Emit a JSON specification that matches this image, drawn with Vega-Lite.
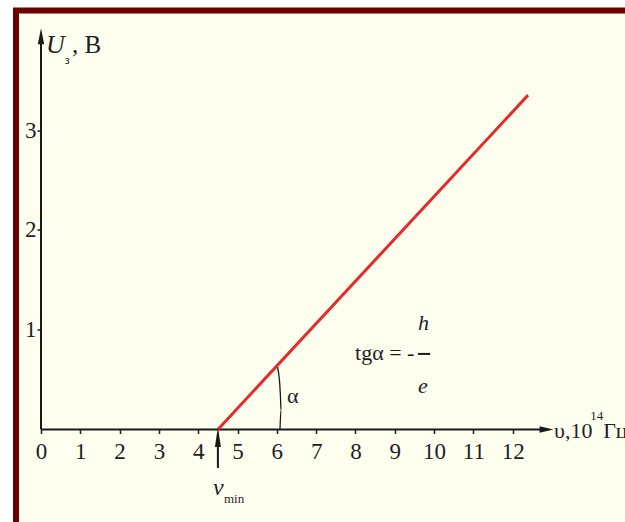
{
  "$schema": "https://vega.github.io/schema/vega-lite/v6.json",
  "width": 609,
  "height": 511.5,
  "autosize": "none",
  "padding": {"left": 16, "top": 10.5, "right": 0, "bottom": 0},
  "background": "#ffffff",
  "config": {
    "view": {"fill": "#FFFFF0", "stroke": "#6B0000", "strokeWidth": 6, "strokeDash": [609, 1120.5, 511.5, 0], "strokeCap": "square"},
    "text": {"font": "Liberation Serif", "color": "#1e1e1e", "align": "left", "baseline": "alphabetic"}
  },
  "datasets": {
    "line": [{"x": 4.5, "y": 0}, {"x": 12.39, "y": 3.35}],
    "rules": [
      {"part": "x-axis", "x": 0, "y": 0, "x2": 12.9, "y2": 0},
      {"part": "y-axis", "x": 0, "y": 0, "x2": 0, "y2": 3.9},
      {"part": "nu-min", "x": 4.5, "y": -0.386, "x2": 4.5, "y2": -0.1},
      {"part": "fraction", "x": 9.59, "y": 0.757, "x2": 9.9, "y2": 0.757}
    ],
    "arc": [
      {"x": 6.08, "y": 0},
      {"x": 6.105, "y": 0.195},
      {"x": 6.09, "y": 0.345},
      {"x": 6.065, "y": 0.496},
      {"x": 6.015, "y": 0.626}
    ],
    "heads": [
      {"dir": "right", "x": 12.86, "y": 0},
      {"dir": "up", "x": 0, "y": 3.94},
      {"dir": "small", "x": 4.5, "y": -0.075}
    ],
    "labels": [
      {"style": "italic-big", "label": "U", "x": 0.13, "y": 3.773},
      {"style": "sub", "label": "з", "x": 0.6, "y": 3.66},
      {"style": "normal-big", "label": ", В", "x": 0.79, "y": 3.773},
      {"style": "normal", "label": "υ,10", "x": 13.05, "y": -0.085},
      {"style": "sub", "label": "14", "x": 13.97, "y": 0.095},
      {"style": "normal", "label": "Гц", "x": 14.3, "y": -0.085},
      {"style": "normal", "label": "tgα = -", "x": 7.988, "y": 0.696},
      {"style": "italic", "label": "h", "x": 9.59, "y": 0.997},
      {"style": "italic", "label": "e", "x": 9.59, "y": 0.366},
      {"style": "normal", "label": "α", "x": 6.258, "y": 0.266},
      {"style": "italic-mid", "label": "v", "x": 4.375, "y": -0.656},
      {"style": "sub", "label": "min", "x": 4.655, "y": -0.736}
    ]
  },
  "encoding": {
    "x": {
      "field": "x", "type": "quantitative",
      "scale": {"domain": [-0.636, 14.856], "nice": false, "zero": false},
      "axis": {
        "orient": "bottom", "offset": -92.5, "domain": false, "grid": false, "title": null,
        "values": [0, 1, 2, 3, 4, 5, 6, 7, 8, 9, 10, 11, 12],
        "tickSize": 4, "tickColor": "#1a1a1a", "tickWidth": 1.5,
        "labelFont": "Liberation Serif", "labelFontSize": 23, "labelColor": "#1e1e1e",
        "labelPadding": 7, "labelFlush": false, "labelOverlap": false
      }
    },
    "y": {
      "field": "y", "type": "quantitative",
      "scale": {"domain": [-0.927, 4.198], "nice": false, "zero": false},
      "axis": {
        "orient": "left", "offset": -25, "domain": false, "grid": false, "title": null,
        "values": [1, 2, 3],
        "tickSize": 4, "tickColor": "#1a1a1a", "tickWidth": 1.5,
        "labelFont": "Liberation Serif", "labelFontSize": 23, "labelColor": "#1e1e1e",
        "labelPadding": 1, "labelFlush": false, "labelOverlap": false
      }
    }
  },
  "layer": [
    {
      "data": {"name": "rules"},
      "mark": {"type": "rule", "color": "#1a1a1a", "strokeWidth": 2},
      "encoding": {"x2": {"field": "x2"}, "y2": {"field": "y2"}}
    },
    {
      "data": {"name": "arc"},
      "mark": {"type": "line", "color": "#1a1a1a", "strokeWidth": 1.3, "interpolate": "monotone"},
      "encoding": {"order": {"field": "y"}}
    },
    {
      "data": {"name": "line"},
      "mark": {"type": "line", "color": "#E32B2B", "strokeWidth": 3},
      "encoding": {}
    },
    {
      "data": {"name": "heads"},
      "transform": [{"filter": "datum.dir === 'right'"}],
      "mark": {"type": "point", "filled": true, "color": "#1a1a1a", "opacity": 1, "size": 196, "shape": "M-1,-0.45L1,0L-1,0.45Z"},
      "encoding": {}
    },
    {
      "data": {"name": "heads"},
      "transform": [{"filter": "datum.dir === 'up'"}],
      "mark": {"type": "point", "filled": true, "color": "#1a1a1a", "opacity": 1, "size": 256, "shape": "M-0.4,1L0,-1L0.4,1Z"},
      "encoding": {}
    },
    {
      "data": {"name": "heads"},
      "transform": [{"filter": "datum.dir === 'small'"}],
      "mark": {"type": "point", "filled": true, "color": "#1a1a1a", "opacity": 1, "size": 400, "shape": "M-0.3,1L0,-1L0.3,1Z"},
      "encoding": {}
    },
    {
      "data": {"name": "labels"},
      "transform": [{"filter": "datum.style === 'italic-big'"}],
      "mark": {"type": "text", "fontSize": 26, "fontStyle": "italic"},
      "encoding": {"text": {"field": "label"}}
    },
    {
      "data": {"name": "labels"},
      "transform": [{"filter": "datum.style === 'italic-mid'"}],
      "mark": {"type": "text", "fontSize": 24, "fontStyle": "italic"},
      "encoding": {"text": {"field": "label"}}
    },
    {
      "data": {"name": "labels"},
      "transform": [{"filter": "datum.style === 'italic'"}],
      "mark": {"type": "text", "fontSize": 22, "fontStyle": "italic"},
      "encoding": {"text": {"field": "label"}}
    },
    {
      "data": {"name": "labels"},
      "transform": [{"filter": "datum.style === 'normal-big'"}],
      "mark": {"type": "text", "fontSize": 25},
      "encoding": {"text": {"field": "label"}}
    },
    {
      "data": {"name": "labels"},
      "transform": [{"filter": "datum.style === 'normal'"}],
      "mark": {"type": "text", "fontSize": 22},
      "encoding": {"text": {"field": "label"}}
    },
    {
      "data": {"name": "labels"},
      "transform": [{"filter": "datum.style === 'sub'"}],
      "mark": {"type": "text", "fontSize": 13},
      "encoding": {"text": {"field": "label"}}
    }
  ]
}
